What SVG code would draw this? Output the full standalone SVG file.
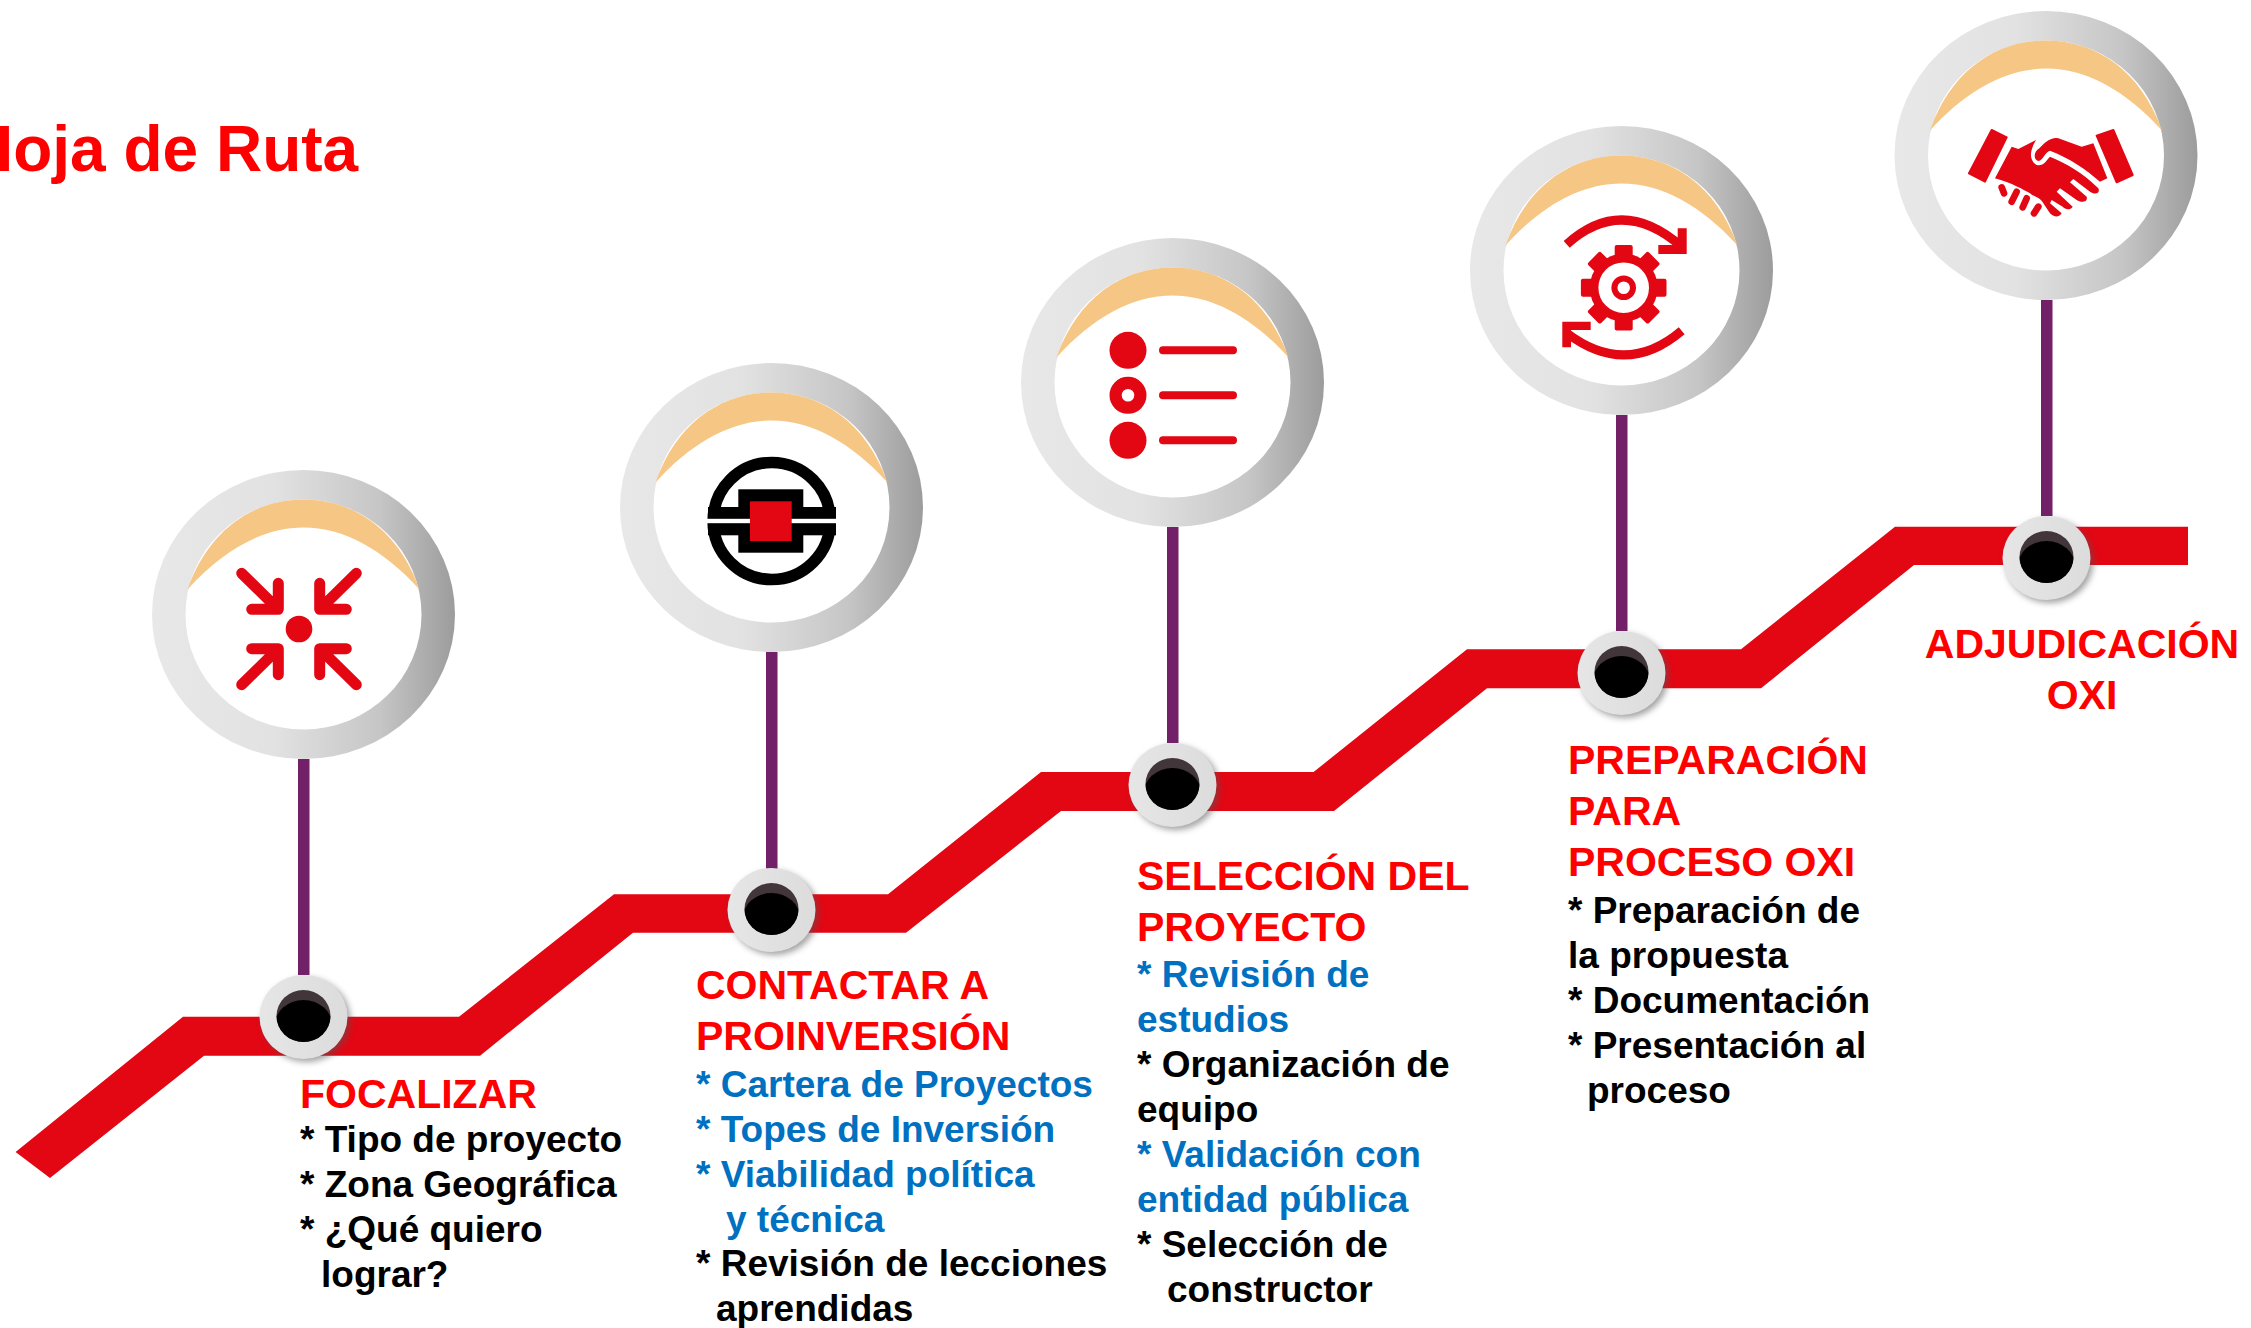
<svg xmlns="http://www.w3.org/2000/svg" xmlns:xlink="http://www.w3.org/1999/xlink" width="2251" height="1328" viewBox="0 0 2251 1328">
<style>
text{font-family:"Liberation Sans",Arial,sans-serif;font-weight:700}
.h{font-size:41px;fill:#ff0000}
.b{font-size:37px;fill:#000}
.c{fill:#0070c0}
.stem{fill:#722068}
.r{fill:#e30613}
.rs{fill:none;stroke:#e30613;stroke-linecap:round;stroke-linejoin:round}
</style>
<defs>
<linearGradient id="ringG" x1="0" x2="1" y1="0" y2="0"><stop offset="0" stop-color="#e8e8e8"/><stop offset=".4" stop-color="#e2e2e2"/><stop offset=".75" stop-color="#c6c6c6"/><stop offset="1" stop-color="#9c9c9c"/></linearGradient>
<linearGradient id="pinG" x1="0" x2="1" y1="0" y2="0"><stop offset="0" stop-color="#e6e6e6"/><stop offset="1" stop-color="#dcdcdc"/></linearGradient>
<filter id="blur" x="-30%" y="-30%" width="160%" height="160%"><feGaussianBlur stdDeviation="3"/></filter>
<clipPath id="pinClip"><ellipse cx="0" cy="0" rx="27" ry="26"/></clipPath>
<g id="ring">
<ellipse rx="151.5" ry="144.5" fill="url(#ringG)"/>
<ellipse rx="118" ry="115" fill="#fff"/>
<path d="M-116-25C-95-85-50-115 0-115C50-115 95-85 116-25C80-65 40-87 0-87C-40-87-80-65-116-25Z" fill="#f6c685"/>
</g>
<g id="pin">
<ellipse cx="3" cy="4" rx="44" ry="42" fill="#555" opacity=".55" filter="url(#blur)"/>
<ellipse cx="0" cy="1" rx="44" ry="42" fill="url(#pinG)"/>
<ellipse rx="27" ry="26" fill="#42363b"/>
<ellipse cy="10" rx="29" ry="26" fill="#000" clip-path="url(#pinClip)"/>
</g>
</defs>
<rect width="2251" height="1328" fill="#fff"/>
<text id="title" x="-33" y="171" style="font-size:64px" fill="#ff0000">Hoja de Ruta</text>
<g id="connectors">
<path id="band" class="r" d="M15.6 1152L183 1016.7H459L614 894.3H888L1041 772H1313.6L1467 649.3H1741L1895 526.7H2188V565H1914L1761 688.3H1487L1334 811H1061L906 932.7H633L480 1055.7H204L50 1178Z"/>
<rect class="stem" x="298" y="759" width="11.5" height="216"/>
<rect class="stem" x="766" y="652" width="11.5" height="217"/>
<rect class="stem" x="1167" y="527" width="11.5" height="216"/>
<rect class="stem" x="1616" y="415" width="11.5" height="216"/>
<rect class="stem" x="2041" y="300" width="11.5" height="216"/>
</g>
<g id="node1">
<use xlink:href="#ring" href="#ring" x="303.5" y="614.5"/>
<circle class="r" cx="299" cy="629" r="13.3"/>
<path class="rs" stroke-width="11" d="M241.7 573.3L278.3 609.3M278.3 583.3V609.3H251.7M356.3 573.3L319.7 609.3M319.7 583.3V609.3H346.3M241.7 684.7L278.3 648.7M278.3 674.7V648.7H251.7M356.3 684.7L319.7 648.7M319.7 674.7V648.7H346.3"/>
<use xlink:href="#pin" href="#pin" x="303.5" y="1016"/>
<text class="h" x="300" y="1108">FOCALIZAR</text>
<text class="b" x="300" y="1152">* Tipo de proyecto</text>
<text class="b" x="300" y="1197">* Zona Geográfica</text>
<text class="b" x="300" y="1242">* ¿Qué quiero</text>
<text class="b" x="321" y="1287">lograr?</text>
</g>
<g id="node2">
<use xlink:href="#ring" href="#ring" x="771.5" y="507.5"/>
<circle cx="771.7" cy="521" r="58.5" fill="none" stroke="#000" stroke-width="11.7"/>
<rect x="708" y="507" width="128" height="28.3" fill="#000"/>
<rect x="738.3" y="489.3" width="65" height="63.4" fill="#000"/>
<rect x="707" y="518.8" width="130" height="4.4" fill="#fff"/>
<rect class="r" x="750" y="501.3" width="41.7" height="39.7"/>
<use xlink:href="#pin" href="#pin" x="771.5" y="909"/>
<text class="h" x="696" y="999">CONTACTAR A</text>
<text class="h" x="696" y="1050">PROINVERSIÓN</text>
<text class="b c" x="696" y="1097">* Cartera de Proyectos</text>
<text class="b c" x="696" y="1142">* Topes de Inversión</text>
<text class="b c" x="696" y="1187">* Viabilidad política</text>
<text class="b c" x="726" y="1232">y técnica</text>
<text class="b" x="696" y="1276">* Revisión de lecciones</text>
<text class="b" x="716" y="1321">aprendidas</text>
</g>
<g id="node3">
<use xlink:href="#ring" href="#ring" x="1172.5" y="382.5"/>
<circle class="r" cx="1128" cy="350.3" r="18.5"/>
<circle cx="1128" cy="395.3" r="12.4" fill="#fff" stroke="#e30613" stroke-width="12.2"/>
<circle class="r" cx="1128" cy="440.3" r="18.5"/>
<path class="rs" stroke-width="8" d="M1163 350.3H1233M1163 395.3H1233M1163 440.3H1233"/>
<use xlink:href="#pin" href="#pin" x="1172.5" y="784"/>
<text class="h" x="1137" y="890">SELECCIÓN DEL</text>
<text class="h" x="1137" y="941">PROYECTO</text>
<text class="b c" x="1137" y="987">* Revisión de</text>
<text class="b c" x="1137" y="1032">estudios</text>
<text class="b" x="1137" y="1077">* Organización de</text>
<text class="b" x="1137" y="1122">equipo</text>
<text class="b c" x="1137" y="1167">* Validación con</text>
<text class="b c" x="1137" y="1212">entidad pública</text>
<text class="b" x="1137" y="1257">* Selección de</text>
<text class="b" x="1167" y="1302">constructor</text>
</g>
<g id="node4">
<use xlink:href="#ring" href="#ring" x="1621.5" y="270.5"/>
<g class="r" transform="translate(1623.7 287.7)">
<circle r="34"/>
<rect x="-9" y="-42.8" width="18" height="85.6" rx="2"/>
<rect x="-9" y="-42.8" width="18" height="85.6" rx="2" transform="rotate(45)"/>
<rect x="-9" y="-42.8" width="18" height="85.6" rx="2" transform="rotate(90)"/>
<rect x="-9" y="-42.8" width="18" height="85.6" rx="2" transform="rotate(135)"/>
<circle r="25.3" fill="#fff"/>
<circle r="9.3" fill="#fff" stroke="#e30613" stroke-width="6"/>
</g>
<path d="M1566.7 244.3Q1622 194.5 1681.7 246.7M1681.7 330.7Q1626 378 1566.7 333" fill="none" stroke="#e30613" stroke-width="9"/>
<polygon class="r" points="1658.3,245 1677.7,245 1677.7,228.3 1686.7,228.3 1686.7,254 1658.3,254"/>
<polygon class="r" points="1562.3,321.7 1590.7,321.7 1590.7,330 1571,330 1571,347.3 1562.3,347.3"/>
<use xlink:href="#pin" href="#pin" x="1621.5" y="672"/>
<text class="h" x="1568" y="774">PREPARACIÓN</text>
<text class="h" x="1568" y="825">PARA</text>
<text class="h" x="1568" y="876">PROCESO OXI</text>
<text class="b" x="1568" y="923">* Preparación de</text>
<text class="b" x="1568" y="968">la propuesta</text>
<text class="b" x="1568" y="1013">* Documentación</text>
<text class="b" x="1568" y="1058">* Presentación al</text>
<text class="b" x="1587" y="1103">proceso</text>
</g>
<g id="node5">
<use xlink:href="#ring" href="#ring" x="2046" y="155.5"/>
<g transform="translate(1880 0) scale(.33333)">
<path class="r" stroke="#e30613" stroke-width="6" stroke-linejoin="round" d="M335 390L380 412L315 545L267 520ZM650 407L700 390L758 525L710 547Z"/>
<path class="r" d="M345 535L395 440L415 447L468 420C450 450 445 480 470 495C490 500 500 480 510 470C560 490 610 520 655 565C662 580 645 585 630 575L580 537L570 547L620 590C625 605 605 610 590 600L540 565L530 575L578 620C570 632 555 628 548 620L515 600L510 610L545 640C535 655 520 650 510 640L490 610C480 590 460 590 450 580C430 570 400 550 345 535Z"/>
<path class="r" d="M478 445C500 420 520 410 535 415L605 440L640 430L682 535L660 545C620 510 570 475 510 452C495 455 490 480 475 483C460 480 460 455 478 445Z"/>
<path class="rs" stroke-width="20" d="M365 562L372 580M410 575L395 605M440 595L428 622M475 620L462 640"/>
</g>
<use xlink:href="#pin" href="#pin" x="2046.5" y="557"/>
<text class="h" x="2082" y="658" text-anchor="middle">ADJUDICACIÓN</text>
<text class="h" x="2082" y="709" text-anchor="middle">OXI</text>
</g>
</svg>
